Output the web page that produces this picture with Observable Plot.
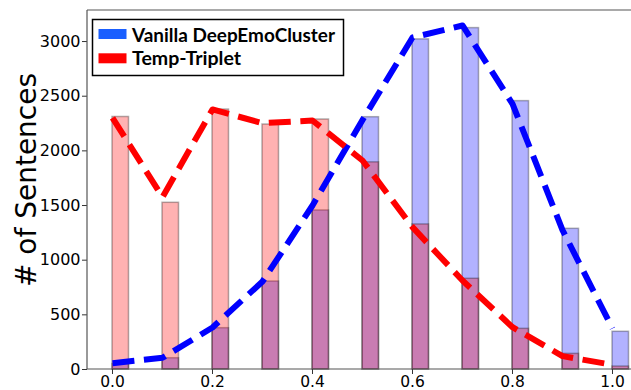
<!DOCTYPE html>
<html>
<head>
<meta charset="utf-8">
<script src="https://cdn.jsdelivr.net/npm/d3@7"></script>
<script src="https://cdn.jsdelivr.net/npm/@observablehq/plot@0.6"></script>
<style>
  html, body { margin: 0; padding: 0; background: white; }
</style>
</head>
<body>
<div id="chart"></div>
<script>
// ---- data ----
const bins = [0.0, 0.1, 0.2, 0.3, 0.4, 0.5, 0.6, 0.7, 0.8, 0.9, 1.0];
const vanilla = [50, 103, 378, 805, 1455, 2308, 3020, 3123, 2455, 1287, 345];
const triplet = [2310, 1525, 2378, 2241, 2287, 1895, 1327, 830, 372, 143, 27];
const vanillaLine = [58, 107, 384, 805, 1500, 2282, 3037, 3147, 2430, 1275, 375];
const tripletLine = [2302, 1577, 2379, 2253, 2278, 1912, 1302, 814, 387, 122, 43];
const seriesNames = ["Vanilla DeepEmoCluster", "Temp-Triplet"];
const yTicks = [0, 500, 1000, 1500, 2000, 2500, 3000];
const xTicks = [0.0, 0.2, 0.4, 0.6, 0.8, 1.0];
const yLabel = "# of Sentences";

const barWidth = 0.033;
const vData = bins.map((x, i) => ({x, v: vanilla[i], l: vanillaLine[i]}));
const tData = bins.map((x, i) => ({x, v: triplet[i], l: tripletLine[i]}));

const svg = Plot.plot({
  width: 631,
  height: 390,
  marginLeft: 87,
  marginRight: 0,
  marginTop: 10,
  marginBottom: 21,
  style: {fontFamily: "DejaVu Sans", fontSize: "16px", color: "black", background: "white"},
  x: {domain: [-0.05, 1.038]},
  y: {domain: [0, 3284]},
  marks: [
    Plot.axisY({ticks: yTicks, tickFormat: d => String(d), tickSize: 5, tickPadding: 2, label: null, fontSize: 16, stroke: "#333", fill: "black"}),
    Plot.axisX({ticks: xTicks, tickFormat: d => d.toFixed(1), tickSize: 5, tickPadding: 1, label: null, fontSize: 15.5, stroke: "#333", fill: "black"}),
    Plot.rectY(vData, {x1: "x", x2: d => d.x + barWidth, y1: 0, y2: "v", fill: "#0000ff", fillOpacity: 0.3, stroke: "black", strokeOpacity: 0.3, strokeWidth: 1.5}),
    Plot.rectY(tData, {x1: "x", x2: d => d.x + barWidth, y1: 0, y2: "v", fill: "#ff0000", fillOpacity: 0.3, stroke: "black", strokeOpacity: 0.3, strokeWidth: 1.5}),
    Plot.line(vData, {x: "x", y: "l", stroke: "#0000ff", strokeWidth: 6, strokeDasharray: "22,9.6", strokeLinecap: "butt", strokeLinejoin: "round"}),
    Plot.line(tData, {x: "x", y: "l", stroke: "#ff0000", strokeWidth: 6, strokeDasharray: "22,9.6", strokeLinecap: "butt", strokeLinejoin: "round"})
  ]
});

const g = d3.select(svg);
const xr = svg.scale("x").range, yr = svg.scale("y").range;
// frame: left, top, bottom (right edge lies outside the cropped picture)
const frame = g.append("g").attr("stroke", "#555").attr("stroke-width", 1.2).attr("fill", "none");
frame.append("line").attr("x1", xr[0]).attr("x2", xr[0]).attr("y1", yr[0]).attr("y2", yr[1]);
frame.append("line").attr("x1", xr[0]).attr("x2", xr[1]).attr("y1", yr[1]).attr("y2", yr[1]);
frame.append("line").attr("x1", xr[0]).attr("x2", xr[1]).attr("y1", yr[0]).attr("y2", yr[0]);

// y label
g.append("text")
  .attr("transform", "translate(36,180) rotate(-90)")
  .attr("text-anchor", "middle")
  .attr("font-family", "DejaVu Sans")
  .attr("font-size", 28)
  .attr("fill", "black")
  .text(yLabel);

// legend
const leg = g.append("g");
leg.append("rect").attr("x", 92.5).attr("y", 19.5).attr("width", 251).attr("height", 56)
  .attr("fill", "white").attr("stroke", "black").attr("stroke-width", 1.5);
const legColors = ["#1a5fff", "#ff0000"];
const legWidths = [203, 109];
seriesNames.forEach((name, i) => {
  leg.append("rect").attr("x", 98.5).attr("y", 29 + i * 24.3).attr("width", 28).attr("height", 10).attr("fill", legColors[i]);
  leg.append("text").attr("x", 132).attr("y", 41.5 + i * 23.5)
    .attr("text-anchor", "start")
    .attr("font-family", "Lato").attr("font-weight", "bold").attr("font-size", 19.5)
    .attr("textLength", legWidths[i]).attr("lengthAdjust", "spacingAndGlyphs")
    .attr("fill", "black").text(name);
});

document.getElementById("chart").appendChild(svg);
</script>
</body>
</html>
